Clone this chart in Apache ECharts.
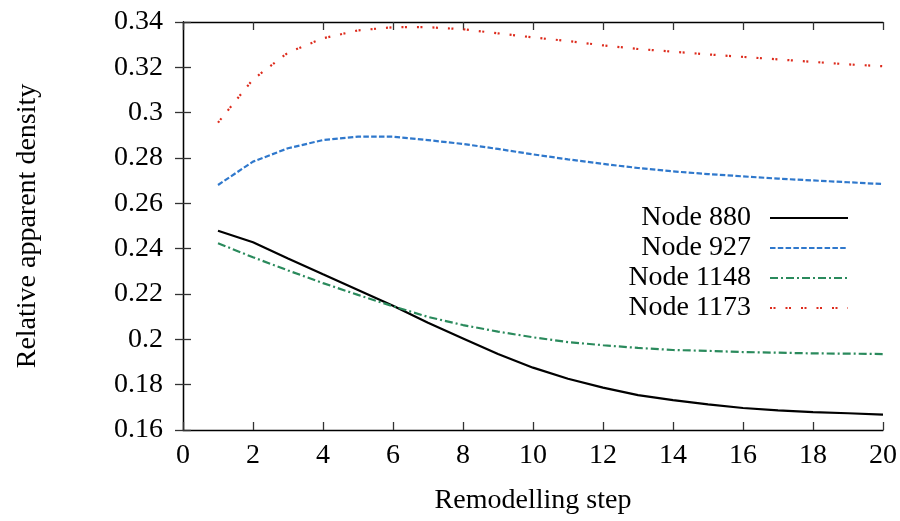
<!DOCTYPE html>
<html>
<head>
<meta charset="utf-8">
<script src="https://cdn.jsdelivr.net/npm/echarts@6/dist/echarts.min.js"></script>
<style>
  html, body { margin: 0; padding: 0; background: #fff; }
  #chart { width: 900px; height: 521px; }
</style>
</head>
<body>
<div id="chart"></div>
<script>
// Remodelling steps 1..20
const steps = [1, 2, 3, 4, 5, 6, 7, 8, 9, 10, 11, 12, 13, 14, 15, 16, 17, 18, 19, 20];

// Relative apparent density per node
const node880 = [0.2479, 0.2428, 0.2357, 0.2287, 0.2218, 0.2148, 0.2073, 0.2004, 0.1935, 0.1875,
                 0.1826, 0.1787, 0.1754, 0.1732, 0.1713, 0.1697, 0.1687, 0.1679, 0.1674, 0.1668];
const node927 = [0.2681, 0.2784, 0.2843, 0.2879, 0.2894, 0.2894, 0.2879, 0.2862, 0.2840, 0.2816,
                 0.2794, 0.2774, 0.2756, 0.2741, 0.2729, 0.2719, 0.2709, 0.2701, 0.2693, 0.2685];
const node1148 = [0.2424, 0.2362, 0.2304, 0.2248, 0.2196, 0.2146, 0.2099, 0.2063, 0.2034, 0.2009,
                  0.1988, 0.1974, 0.1962, 0.1953, 0.1949, 0.1944, 0.1941, 0.1938, 0.1937, 0.1935];
const node1173 = [0.2956, 0.3147, 0.3265, 0.3328, 0.3363, 0.3377, 0.3377, 0.3368, 0.3350, 0.3332,
                  0.3316, 0.3297, 0.3281, 0.3269, 0.3257, 0.3246, 0.3235, 0.3224, 0.3213, 0.3205];

const seriesNames = ['Node 880', 'Node 927', 'Node 1148', 'Node 1173'];

const FONT = '"Liberation Serif", "Times New Roman", serif';

function pairs(ys) { return steps.map((x, i) => [x, ys[i]]); }

const chart = echarts.init(document.getElementById('chart'), null, { renderer: 'canvas' });

const baseAxis = {
  axisLine: { show: true, lineStyle: { color: '#000', width: 1.3 } },
  axisTick: { show: true, inside: true, length: 8, lineStyle: { color: '#333', width: 1.3 } },
  splitLine: { show: false }
};

chart.setOption({
  animation: false,
  grid: { left: 183, right: 16, top: 22, bottom: 91, show: false },
  xAxis: [
    Object.assign({}, baseAxis, {
      type: 'value', min: 0, max: 20, interval: 2, position: 'bottom',
      axisLabel: { color: '#000', fontFamily: FONT, fontSize: 28, margin: 12 },
      name: 'Remodelling step', nameLocation: 'middle', nameGap: 57,
      nameTextStyle: { color: '#000', fontFamily: FONT, fontSize: 28 }
    }),
    Object.assign({}, baseAxis, {
      type: 'value', min: 0, max: 20, interval: 2, position: 'top',
      axisLabel: { show: false }
    })
  ],
  yAxis: [
    Object.assign({}, baseAxis, {
      type: 'value', min: 0.16, max: 0.34, interval: 0.02, position: 'left',
      axisLabel: { color: '#000', fontFamily: FONT, fontSize: 28, margin: 20 },
      name: 'Relative apparent density', nameLocation: 'middle', nameGap: 141,
      nameTextStyle: { color: '#000', fontFamily: FONT, fontSize: 28 }
    }),
    Object.assign({}, baseAxis, {
      type: 'value', min: 0.16, max: 0.34, interval: 0.02, position: 'right',
      axisLabel: { show: false }
    })
  ],
  legend: {
    orient: 'vertical',
    align: 'right',
    right: 51,
    top: 204,
    padding: 0,
    itemGap: 2,
    itemWidth: 78,
    itemHeight: 14,
    itemStyle: { opacity: 0 },
    data: seriesNames,
    textStyle: { color: '#000', fontFamily: FONT, fontSize: 28, padding: [0, 14, 0, 0] }
  },
  series: [
    {
      name: 'Node 880', type: 'line', data: pairs(node880), showSymbol: false, symbol: 'none',
      lineStyle: { color: '#000', width: 2.2, type: 'solid' },
      itemStyle: { color: '#000' }
    },
    {
      name: 'Node 927', type: 'line', data: pairs(node927), showSymbol: false, symbol: 'none',
      lineStyle: { color: '#2f78cc', width: 2.2, type: [5.5, 2.3] },
      itemStyle: { color: '#2f78cc' }
    },
    {
      name: 'Node 1148', type: 'line', data: pairs(node1148), showSymbol: false, symbol: 'none',
      lineStyle: { color: '#2a8a5c', width: 2.2, type: [8, 3, 2, 3] },
      itemStyle: { color: '#2a8a5c' }
    },
    {
      name: 'Node 1173', type: 'line', data: pairs(node1173), showSymbol: false, symbol: 'none',
      lineStyle: { color: '#dd2b1c', width: 2.2, type: [2, 1.5, 2, 10] },
      itemStyle: { color: '#dd2b1c' }
    }
  ]
});
</script>
</body>
</html>
